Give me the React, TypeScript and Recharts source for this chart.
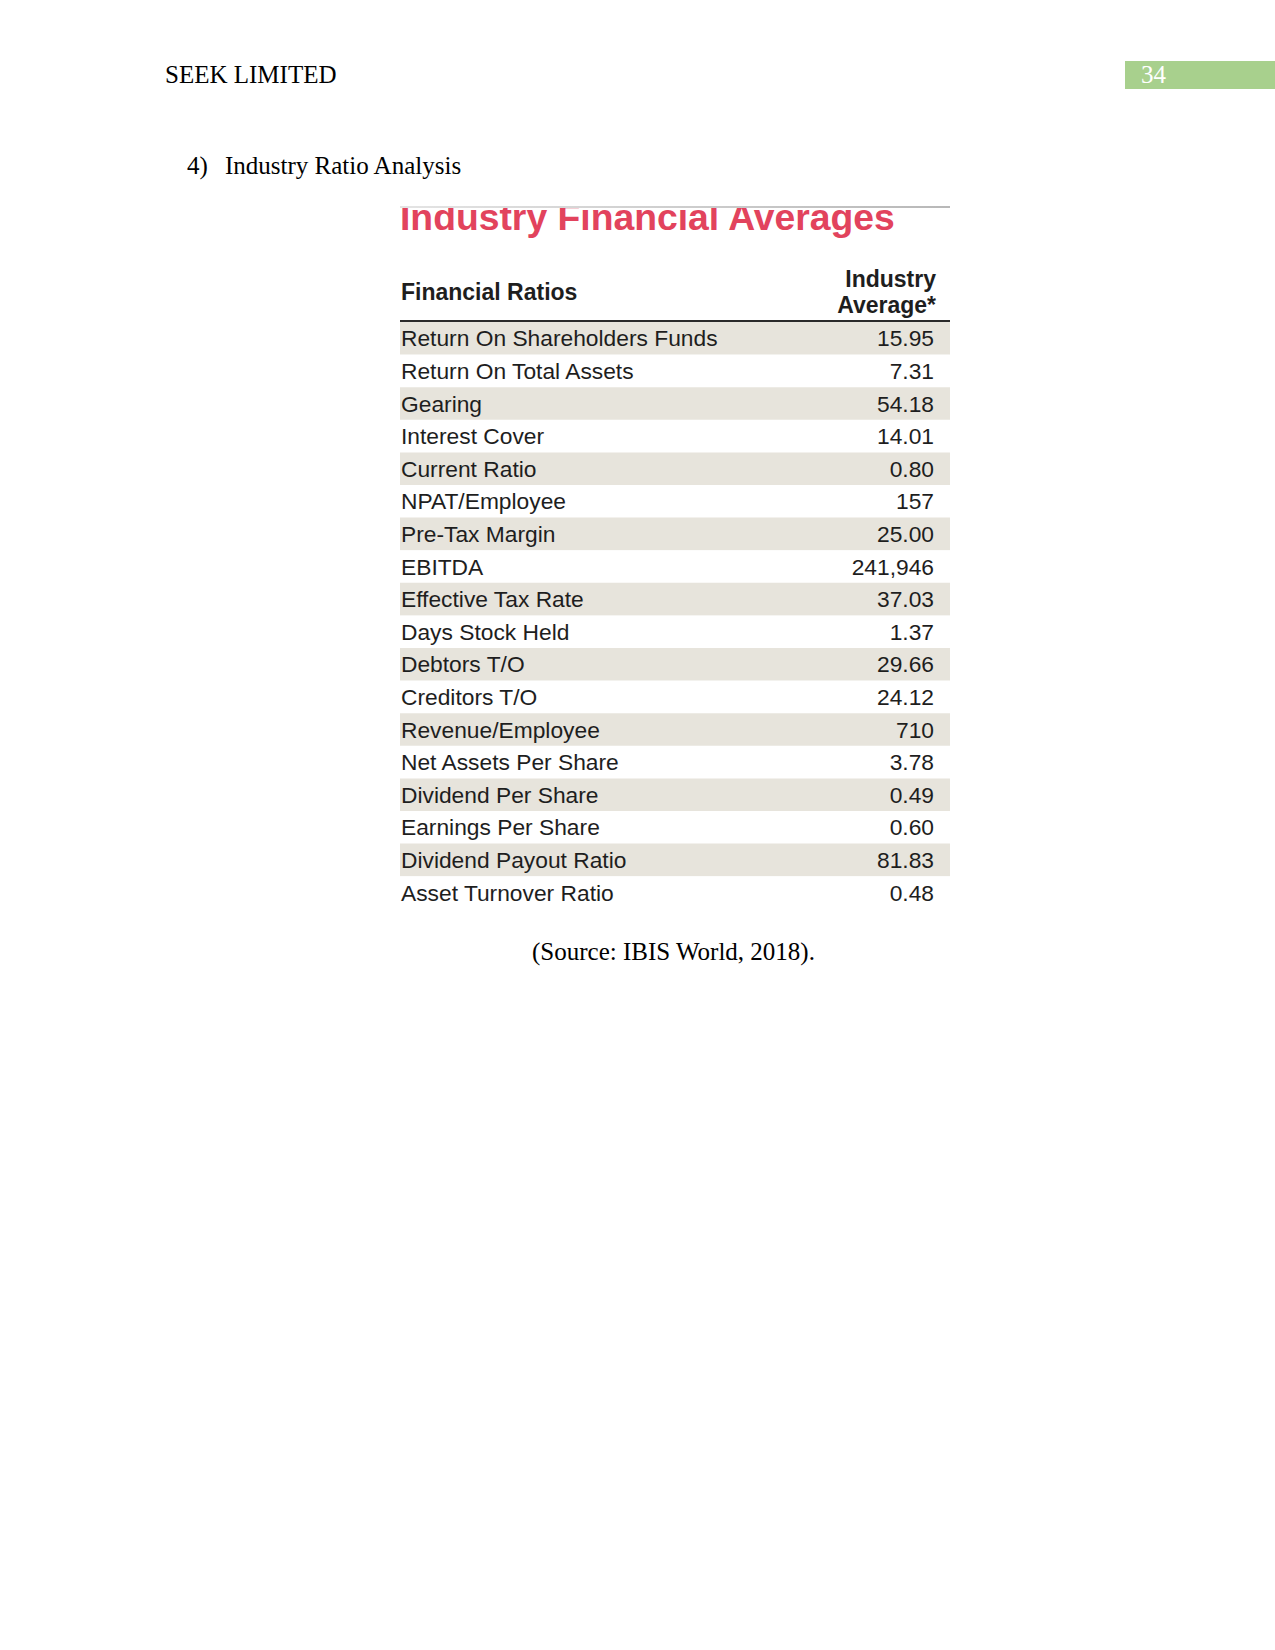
import React from 'react';
import { BarChart, Bar, XAxis, YAxis, Cell, LabelList } from 'recharts';

const ratioNames = [
  'Return On Shareholders Funds',
  'Return On Total Assets',
  'Gearing',
  'Interest Cover',
  'Current Ratio',
  'NPAT/Employee',
  'Pre-Tax Margin',
  'EBITDA',
  'Effective Tax Rate',
  'Days Stock Held',
  'Debtors T/O',
  'Creditors T/O',
  'Revenue/Employee',
  'Net Assets Per Share',
  'Dividend Per Share',
  'Earnings Per Share',
  'Dividend Payout Ratio',
  'Asset Turnover Ratio',
];

const industryAverages = [
  '15.95', '7.31', '54.18', '14.01', '0.80', '157', '25.00', '241,946', '37.03',
  '1.37', '29.66', '24.12', '710', '3.78', '0.49', '0.60', '81.83', '0.48',
];

// each row is a full-width band, shaded on alternate rows
const rows = ratioNames.map((name, i) => ({ name, value: industryAverages[i], band: 1 }));

const SHADE = '#e7e4dc';
const TEXT = '#1e1e1e';
const SANS = '"Liberation Sans", Arial, sans-serif';
const SERIF = '"Liberation Serif", "Times New Roman", serif';

const ROW_H = 32.6;
const TABLE_W = 550;

function NameLabel(props: any) {
  const { x, y, height, value } = props;
  return (
    <text x={x + 1} y={y + height / 2 + 8} fontFamily={SANS} fontSize={22.8} fill={TEXT} textAnchor="start">
      {value}
    </text>
  );
}

function ValueLabel(props: any) {
  const { x, y, width, height, value } = props;
  return (
    <text
      x={x + width - 16}
      y={y + height / 2 + 8}
      fontFamily={SANS}
      fontSize={22.8}
      fill={TEXT}
      textAnchor="end"
    >
      {value}
    </text>
  );
}

export default function App() {
  return (
    <div
      style={{
        position: 'absolute',
        left: 0,
        top: 0,
        width: 1275,
        height: 1650,
        background: '#fff',
        fontFamily: SERIF,
      }}
    >
      <div style={{ position: 'absolute', left: 165, top: 61, fontSize: 25, color: '#000' }}>
        SEEK LIMITED
      </div>
      <div
        style={{
          position: 'absolute',
          left: 1125,
          top: 61,
          width: 150,
          height: 28,
          background: '#a8d08d',
        }}
      >
        <div style={{ position: 'absolute', left: 16, top: 0, fontSize: 25, color: '#fff' }}>34</div>
      </div>

      <div style={{ position: 'absolute', left: 187, top: 152, fontSize: 25, color: '#000' }}>4)</div>
      <div style={{ position: 'absolute', left: 225, top: 152, fontSize: 25, color: '#000' }}>
        Industry Ratio Analysis
      </div>

      {/* table image block: title is cropped at the top like the source image */}
      <div
        style={{
          position: 'absolute',
          left: 400,
          top: 206,
          width: TABLE_W,
          height: 36,
          overflow: 'hidden',
        }}
      >
        <div
          style={{
            position: 'absolute',
            left: 0,
            top: -10,
            fontFamily: SANS,
            fontWeight: 'bold',
            fontSize: 37.3,
            color: '#e2435d',
            whiteSpace: 'nowrap',
          }}
        >
          Industry Financial Averages
        </div>
      </div>
      <div
        style={{
          position: 'absolute',
          left: 400,
          top: 206,
          width: TABLE_W,
          height: 2,
          background: 'linear-gradient(to right, #e4e4e4, #b8b8b8)',
        }}
      />

      <div
        style={{
          position: 'absolute',
          left: 401,
          top: 279,
          fontFamily: SANS,
          fontWeight: 'bold',
          fontSize: 23,
          color: TEXT,
        }}
      >
        Financial Ratios
      </div>
      <div
        style={{
          position: 'absolute',
          right: 1275 - 936,
          top: 266,
          fontFamily: SANS,
          fontWeight: 'bold',
          fontSize: 23,
          lineHeight: '26px',
          color: TEXT,
          textAlign: 'right',
        }}
      >
        Industry
        <br />
        Average*
      </div>
      <div
        style={{
          position: 'absolute',
          left: 400,
          top: 320,
          width: TABLE_W,
          height: 2,
          background: '#2a2a2a',
        }}
      />
      <div
        style={{ position: 'absolute', left: 758, top: 321, width: 1, height: 3, background: '#2a2a2a' }}
      />

      <div style={{ position: 'absolute', left: 400, top: 322 }}>
        <BarChart
          width={TABLE_W}
          height={ROW_H * rows.length}
          data={rows}
          layout="vertical"
          margin={{ top: 0, right: 0, bottom: 0, left: 0 }}
          barCategoryGap={0}
        >
          <XAxis type="number" domain={[0, 1]} hide />
          <YAxis type="category" dataKey="name" hide />
          <Bar dataKey="band" isAnimationActive={false}>
            {rows.map((r, i) => (
              <Cell key={r.name} fill={i % 2 === 0 ? SHADE : '#ffffff'} />
            ))}
            <LabelList dataKey="name" content={<NameLabel />} />
            <LabelList dataKey="value" content={<ValueLabel />} />
          </Bar>
        </BarChart>
      </div>

      <div style={{ position: 'absolute', left: 532, top: 938, fontSize: 25, color: '#000' }}>
        (Source: IBIS World, 2018).
      </div>
    </div>
  );
}
